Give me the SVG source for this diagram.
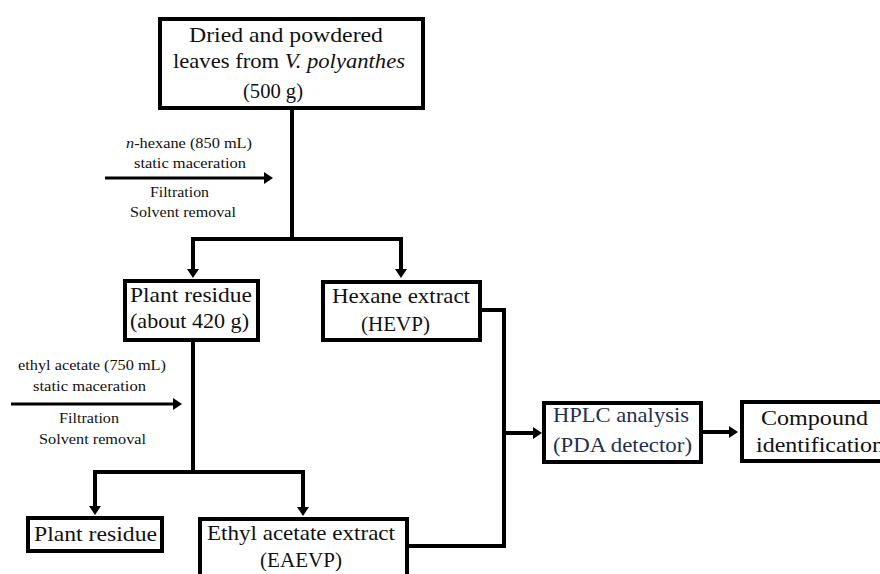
<svg xmlns="http://www.w3.org/2000/svg" width="880" height="574" viewBox="0 0 880 574">
<style>
.box{fill:#fff;stroke:#000;stroke-width:4}
.t{font-family:"Liberation Serif","Times New Roman",serif;font-size:21px;fill:#111}
.s{font-family:"Liberation Serif","Times New Roman",serif;font-size:14.5px;fill:#111}
.blue{fill:#1f3050}
.c{fill:none;stroke:#000;stroke-width:4}
.c3{fill:none;stroke:#000;stroke-width:3}
</style>
<defs>
<marker id="ah" markerUnits="userSpaceOnUse" markerWidth="10" markerHeight="12" refX="0" refY="6" orient="auto">
<path d="M0,0 L9,6 L0,12 z" fill="#000"/>
</marker>
</defs>
<rect width="880" height="574" fill="#fff"/>
<g id="connectors">
<path class="c" d="M292,110 V239"/>
<path class="c" d="M193,239 H401"/>
<path class="c" d="M193,237 V269" marker-end="url(#ah)"/>
<path class="c" d="M401,237 V269" marker-end="url(#ah)"/>
<path class="c3" d="M105,178 H264" marker-end="url(#ah)"/>
<path class="c" d="M193,342 V472"/>
<path class="c" d="M95,472 H303"/>
<path class="c" d="M95,470 V506" marker-end="url(#ah)"/>
<path class="c" d="M303,470 V507" marker-end="url(#ah)"/>
<path class="c3" d="M11,404 H173" marker-end="url(#ah)"/>
<path class="c" d="M480,310 H504 V546 H407"/>
<path class="c" d="M504,433 H533" marker-end="url(#ah)"/>
<path class="c" d="M701,432 H729" marker-end="url(#ah)"/>
<text class="s" x="126" y="148" textLength="126" lengthAdjust="spacingAndGlyphs"><tspan font-style="italic">n</tspan>-hexane (850 mL)</text>
<text class="s" x="134" y="168" textLength="112" lengthAdjust="spacingAndGlyphs">static maceration</text>
<text class="s" x="150" y="197" textLength="59" lengthAdjust="spacingAndGlyphs">Filtration</text>
<text class="s" x="130" y="217" textLength="106" lengthAdjust="spacingAndGlyphs">Solvent removal</text>
<text class="s" x="18" y="370" textLength="148" lengthAdjust="spacingAndGlyphs">ethyl acetate (750 mL)</text>
<text class="s" x="33" y="391" textLength="113" lengthAdjust="spacingAndGlyphs">static maceration</text>
<text class="s" x="59" y="423" textLength="60" lengthAdjust="spacingAndGlyphs">Filtration</text>
<text class="s" x="39" y="444" textLength="107" lengthAdjust="spacingAndGlyphs">Solvent removal</text>
</g>
<g id="start">
<rect class="box" x="160" y="19" width="263" height="89"/>
<text class="t" x="189" y="42" textLength="194" lengthAdjust="spacingAndGlyphs">Dried and powdered</text>
<text class="t" x="173" y="68" textLength="232" lengthAdjust="spacingAndGlyphs">leaves from <tspan font-style="italic">V. polyanthes</tspan></text>
<text class="t" x="243" y="98" textLength="60" lengthAdjust="spacingAndGlyphs">(500 g)</text>
</g>
<g id="residue1">
<rect class="box" x="125" y="281" width="133" height="59"/>
<text class="t" x="130" y="302" textLength="122" lengthAdjust="spacingAndGlyphs">Plant residue</text>
<text class="t" x="130" y="328" textLength="119" lengthAdjust="spacingAndGlyphs">(about 420 g)</text>
</g>
<g id="hexane">
<rect class="box" x="323" y="282" width="157" height="58"/>
<text class="t" x="332" y="303" textLength="138" lengthAdjust="spacingAndGlyphs">Hexane extract</text>
<text class="t" x="361" y="331" textLength="69" lengthAdjust="spacingAndGlyphs">(HEVP)</text>
</g>
<g id="residue2">
<rect class="box" x="28" y="518" width="134" height="33"/>
<text class="t" x="34" y="541" textLength="123" lengthAdjust="spacingAndGlyphs">Plant residue</text>
</g>
<g id="ethyl">
<rect class="box" x="200" y="519" width="207" height="80"/>
<text class="t" x="207" y="540" textLength="188" lengthAdjust="spacingAndGlyphs">Ethyl acetate extract</text>
<text class="t" x="260" y="567" textLength="82" lengthAdjust="spacingAndGlyphs">(EAEVP)</text>
</g>
<g id="hplc">
<rect class="box" x="544" y="403" width="157" height="59"/>
<text class="t blue" x="553" y="422" textLength="136" lengthAdjust="spacingAndGlyphs">HPLC analysis</text>
<text class="t blue" x="553" y="452" textLength="139" lengthAdjust="spacingAndGlyphs">(PDA detector)</text>
</g>
<g id="compound">
<rect class="box" x="742" y="402" width="160" height="59"/>
<text class="t" x="761" y="425" textLength="107" lengthAdjust="spacingAndGlyphs">Compound</text>
<text class="t" x="756" y="452" textLength="128" lengthAdjust="spacingAndGlyphs">identification</text>
</g>
</svg>
